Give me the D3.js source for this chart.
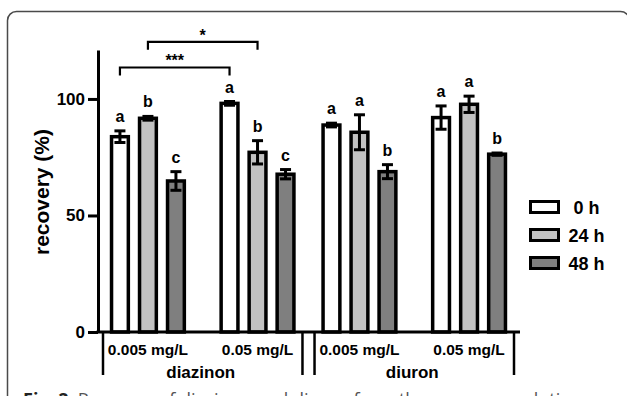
<!DOCTYPE html>
<html>
<head>
<meta charset="utf-8">
<script src="https://cdn.jsdelivr.net/npm/d3@7"></script>
<style>
  html, body { margin: 0; padding: 0; background: #fff; overflow: hidden; }
  svg { display: block; }
</style>
</head>
<body>
<div id="chart"></div>
<script>

// Chart data
const compounds = ["diazinon", "diuron"];
const concentrations = ["0.005 mg/L", "0.05 mg/L"];
const times = ["0 h", "24 h", "48 h"];

// one value per group: diazinon 0.005, diazinon 0.05, diuron 0.005, diuron 0.05
const mean0h = [83.8, 98.1, 88.8, 92.0];
const mean24h = [91.7, 77.1, 85.7, 97.7];
const mean48h = [64.8, 67.7, 68.8, 76.3];
const err0h = [2.5, 0.8, 0.8, 5.0];
const err24h = [0.8, 5.0, 7.5, 3.5];
const err48h = [4.0, 2.0, 3.0, 0.5];
const letters0h = ["a", "a", "a", "a"];
const letters24h = ["b", "b", "a", "a"];
const letters48h = ["c", "c", "b", "b"];

const yTicks = [0, 50, 100];

// significance brackets between the two diazinon concentrations
const bracketTimes = ["0 h", "24 h"];
const bracketLevels = [113.5, 124.5];
const bracketLabels = ["***", "*"];

const caption = "Recovery of diazinon and diuron from the exposure solutions";

const fills = ["#ffffff", "#c2c2c2", "#7f7f7f"];
const font = "'Liberation Sans', Arial, sans-serif";

// Build rows for the bars
const means = [mean0h, mean24h, mean48h];
const errs = [err0h, err24h, err48h];
const letters = [letters0h, letters24h, letters48h];
const rows = [];
compounds.forEach((c, ci) => {
    concentrations.forEach((k, ki) => {
        const g = ci * concentrations.length + ki;
        times.forEach((t, ti) => {
            rows.push({ compound: c, conc: k, time: t, value: means[ti][g], err: errs[ti][g], letter: letters[ti][g] });
        });
    });
});

const W = 627, H = 396;
const svg = d3.select("#chart").append("svg")
    .attr("width", W)
    .attr("height", H);

// Figure frame
svg.append("rect")
    .attr("x", 7.5).attr("y", 11.5)
    .attr("width", 622).attr("height", 420)
    .attr("rx", 9)
    .attr("fill", "none")
    .attr("stroke", "#4a4a4a")
    .attr("stroke-width", 1.5);

// Scales
const y = d3.scaleLinear().domain([0, 121]).range([332, 50]);
const x0 = d3.scaleBand().domain(compounds).range([103, 514]).paddingInner(0.057);
const x1 = d3.scaleBand().domain(concentrations).range([0, x0.bandwidth()]).paddingInner(0.4).paddingOuter(0.11);
const x2 = d3.scaleBand().domain(times).range([-42, 42]).paddingInner(0.4).paddingOuter(0.2);
const colour = d3.scaleOrdinal().domain(times).range(fills);

const groupCentre = (d) => x0(d.compound) + x1(d.conc) + x1.bandwidth() / 2;
const barCentre = (d) => groupCentre(d) + x2(d.time) + x2.bandwidth() / 2;

// Bars
svg.append("g").selectAll("rect")
    .data(rows)
    .join("rect")
    .attr("x", (d) => barCentre(d) - x2.bandwidth() / 2)
    .attr("y", (d) => y(d.value))
    .attr("width", x2.bandwidth())
    .attr("height", (d) => y(0) - y(d.value))
    .attr("fill", (d) => colour(d.time))
    .attr("stroke", "#000")
    .attr("stroke-width", 3.5);

// Error bars
const eb = svg.append("g").attr("stroke", "#000").attr("stroke-width", 3);
eb.selectAll(".stem").data(rows).join("line")
    .attr("x1", barCentre).attr("x2", barCentre)
    .attr("y1", (d) => y(d.value - d.err))
    .attr("y2", (d) => y(d.value + d.err));
eb.selectAll(".capTop").data(rows).join("line")
    .attr("x1", (d) => barCentre(d) - 5.5).attr("x2", (d) => barCentre(d) + 5.5)
    .attr("y1", (d) => y(d.value + d.err)).attr("y2", (d) => y(d.value + d.err));
eb.selectAll(".capBottom").data(rows).join("line")
    .attr("x1", (d) => barCentre(d) - 5.5).attr("x2", (d) => barCentre(d) + 5.5)
    .attr("y1", (d) => y(d.value - d.err)).attr("y2", (d) => y(d.value - d.err));

// Letters above bars
svg.append("g").selectAll("text")
    .data(rows)
    .join("text")
    .attr("x", barCentre)
    .attr("y", (d) => y(d.value + d.err) - 9)
    .attr("text-anchor", "middle")
    .style("font", `bold 16px ${font}`)
    .text((d) => d.letter);

// Y axis
const yAxis = svg.append("g")
    .attr("transform", `translate(98, 0)`)
    .call(d3.axisLeft(y).tickValues(yTicks).tickSize(10).tickSizeOuter(0).tickPadding(3));
yAxis.select(".domain").attr("stroke-width", 3);
yAxis.selectAll(".tick line").attr("stroke-width", 3);
yAxis.selectAll(".tick text")
    .style("font", `bold 17px ${font}`)
    .attr("fill", "#000");

// X axis baseline
svg.append("line")
    .attr("x1", 96.5).attr("x2", x0.range()[1] + 6)
    .attr("y1", y(0)).attr("y2", y(0))
    .attr("stroke", "#000")
    .attr("stroke-width", 3);

// Compound separators below the axis
const edges = compounds.flatMap((c) => [x0(c), x0(c) + x0.bandwidth()]);
svg.append("g").selectAll("line")
    .data(edges)
    .join("line")
    .attr("x1", (d) => d).attr("x2", (d) => d)
    .attr("y1", y(0)).attr("y2", 375)
    .attr("stroke", "#000")
    .attr("stroke-width", 2.5);

// Concentration labels
const concRows = compounds.flatMap((c) => concentrations.map((k) => ({ compound: c, conc: k })));
svg.append("g").selectAll("text")
    .data(concRows)
    .join("text")
    .attr("x", groupCentre)
    .attr("y", 355)
    .attr("text-anchor", "middle")
    .style("font", `bold 15.5px ${font}`)
    .text((d) => d.conc);

// Compound labels
svg.append("g").selectAll("text")
    .data(compounds)
    .join("text")
    .attr("x", (d) => x0(d) + x0.bandwidth() / 2 - 2)
    .attr("y", 378)
    .attr("text-anchor", "middle")
    .style("font", `bold 17px ${font}`)
    .text((d) => d);

// Y axis title
svg.append("text")
    .attr("transform", "translate(49, 192) rotate(-90)")
    .attr("text-anchor", "middle")
    .style("font", `bold 21px ${font}`)
    .text("recovery (%)");

// Significance brackets
bracketTimes.forEach((t, i) => {
    const a = rows.find((d) => d.compound === compounds[0] && d.conc === concentrations[0] && d.time === t);
    const b = rows.find((d) => d.compound === compounds[0] && d.conc === concentrations[1] && d.time === t);
    const by = y(bracketLevels[i]);
    svg.append("path")
        .attr("d", `M${barCentre(a)},${by + 8}V${by}H${barCentre(b)}V${by + 8}`)
        .attr("fill", "none")
        .attr("stroke", "#000")
        .attr("stroke-width", 2.2);
    svg.append("text")
        .attr("x", (barCentre(a) + barCentre(b)) / 2)
        .attr("y", by - 1)
        .attr("text-anchor", "middle")
        .style("font", `bold 16px ${font}`)
        .text(bracketLabels[i]);
});

// Legend
const legend = svg.append("g").selectAll("g")
    .data(times)
    .join("g")
    .attr("transform", (d, i) => `translate(530.5, ${201.5 + i * 28})`);
legend.append("rect")
    .attr("width", 28).attr("height", 11)
    .attr("fill", (d) => colour(d))
    .attr("stroke", "#000")
    .attr("stroke-width", 3);
legend.append("text")
    .attr("x", 56).attr("y", 12.5)
    .attr("text-anchor", "middle")
    .style("font", `bold 18px ${font}`)
    .text((d) => d);

// Figure caption (cut off by the page edge, as in the source)
const cap = svg.append("text")
    .attr("x", 23).attr("y", 406)
    .style("font", "18px 'Open Sans', sans-serif")
    .attr("fill", "#555");
cap.append("tspan").attr("font-weight", "bold").attr("fill", "#222").text("Fig. 2");
cap.append("tspan").attr("dx", 9).text(caption);

</script>
</body>
</html>
